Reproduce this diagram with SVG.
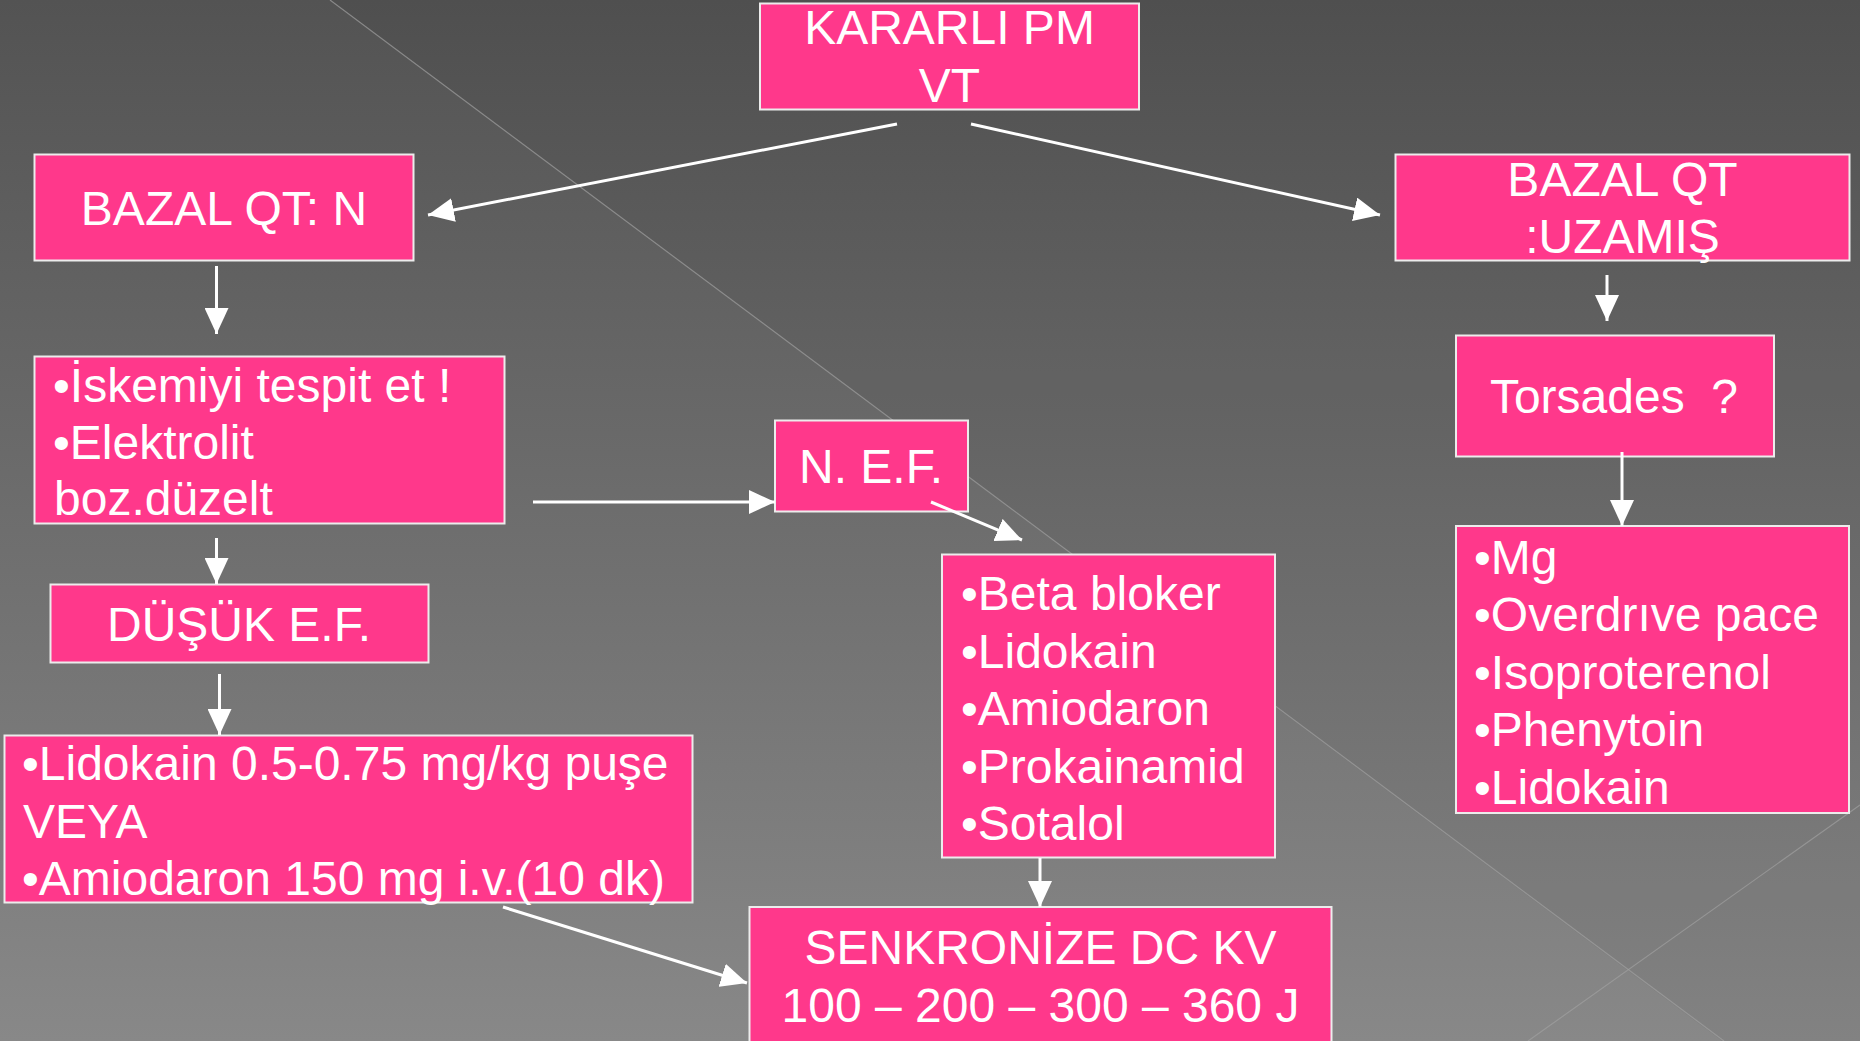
<svg xmlns="http://www.w3.org/2000/svg" width="1860" height="1041" viewBox="0 0 1860 1041">
<style>
.box{fill:#FF388B;stroke:#ececec;stroke-width:2}
.t{font-family:"Liberation Sans",Arial,sans-serif;font-size:48px;fill:#ffffff}
.c{text-anchor:middle}
.conn{stroke:#ffffff;stroke-width:3;fill:none;marker-end:url(#ah)}
.bgl{stroke:#a0a0a0;stroke-opacity:0.7;stroke-width:1.2;fill:none}
</style>
<defs>
<linearGradient id="bg" x1="0" y1="0" x2="0" y2="1">
<stop offset="0" stop-color="#535353"/>
<stop offset="1" stop-color="#888888"/>
</linearGradient>
<marker id="ah" markerUnits="userSpaceOnUse" markerWidth="26" markerHeight="24" refX="26" refY="12" orient="auto">
<path d="M0,0 L26,12 L0,24 z" fill="#ffffff"/>
</marker>
</defs>
<g id="background">
<rect x="0" y="0" width="1860" height="1041" fill="url(#bg)"/>
<polygon points="330,0 1860,0 1860,1041 1722,1041" fill="#000000" fill-opacity="0.04"/>
<line class="bgl" x1="330" y1="0" x2="1724" y2="1041"/>
<line class="bgl" x1="1528" y1="1041" x2="1860" y2="805"/>
</g>
<g id="node-kararli">
<rect class="box" x="760" y="3.5" width="379" height="106"/>
<text class="t c" x="949.5" y="44">KARARLI PM</text>
<text class="t c" x="949.5" y="102">VT</text>
</g>
<g id="node-bazal-n">
<rect class="box" x="34.5" y="154.5" width="379" height="106"/>
<text class="t c" x="224" y="225">BAZAL QT: N</text>
</g>
<g id="node-bazal-uzamis">
<rect class="box" x="1395.5" y="154.5" width="454" height="106"/>
<text class="t c" x="1622.5" y="196">BAZAL QT</text>
<text class="t c" x="1622.5" y="253">:UZAMIŞ</text>
</g>
<g id="node-torsades">
<rect class="box" x="1456" y="335.5" width="318" height="121"/>
<text class="t c" x="1614" y="413" xml:space="preserve">Torsades  ?</text>
</g>
<g id="node-iskemi">
<rect class="box" x="34.5" y="356.5" width="470" height="167"/>
<text class="t" x="53" y="402">•İskemiyi tespit et !</text>
<text class="t" x="53" y="459">•Elektrolit</text>
<text class="t" x="54" y="515">boz.düzelt</text>
</g>
<g id="node-nef">
<rect class="box" x="775" y="420.5" width="193" height="91"/>
<text class="t c" x="871" y="483">N. E.F.</text>
</g>
<g id="node-dusuk">
<rect class="box" x="50.5" y="584.5" width="378" height="78"/>
<text class="t c" x="239" y="641">DÜŞÜK E.F.</text>
</g>
<g id="node-lidokain">
<rect class="box" x="4.5" y="735.5" width="688" height="167"/>
<text class="t" x="22" y="780">•Lidokain 0.5-0.75 mg/kg puşe</text>
<text class="t" x="23" y="838">VEYA</text>
<text class="t" x="22" y="895">•Amiodaron 150 mg i.v.(10 dk)</text>
</g>
<g id="node-beta">
<rect class="box" x="942" y="554.5" width="333" height="303"/>
<text class="t" x="961" y="610">•Beta bloker</text>
<text class="t" x="961" y="668">•Lidokain</text>
<text class="t" x="961" y="725">•Amiodaron</text>
<text class="t" x="961" y="783">•Prokainamid</text>
<text class="t" x="961" y="840">•Sotalol</text>
</g>
<g id="node-mg">
<rect class="box" x="1456" y="526" width="393" height="287"/>
<text class="t" x="1474" y="574">•Mg</text>
<text class="t" x="1474" y="631">•Overdrıve pace</text>
<text class="t" x="1474" y="689">•Isoproterenol</text>
<text class="t" x="1474" y="746">•Phenytoin</text>
<text class="t" x="1474" y="804">•Lidokain</text>
</g>
<g id="node-senkronize">
<rect class="box" x="749.5" y="907" width="582" height="150"/>
<text class="t c" x="1040.5" y="964">SENKRONİZE DC KV</text>
<text class="t c" x="1040.5" y="1022">100 – 200 – 300 – 360 J</text>
</g>
<g id="connectors">
<line class="conn" x1="897" y1="124" x2="428" y2="215"/>
<line class="conn" x1="971" y1="124" x2="1380" y2="215"/>
<line class="conn" x1="216.5" y1="266" x2="216.5" y2="334"/>
<line class="conn" x1="1607" y1="275" x2="1607" y2="321"/>
<line class="conn" x1="533" y1="502" x2="775" y2="502"/>
<line class="conn" x1="931" y1="502" x2="1022" y2="540"/>
<line class="conn" x1="216.5" y1="538" x2="216.5" y2="584"/>
<line class="conn" x1="1622" y1="452" x2="1622" y2="526"/>
<line class="conn" x1="219.5" y1="674" x2="219.5" y2="735"/>
<line class="conn" x1="1040" y1="858" x2="1040" y2="907"/>
<line class="conn" x1="503" y1="907" x2="747" y2="983"/>
</g>
</svg>
